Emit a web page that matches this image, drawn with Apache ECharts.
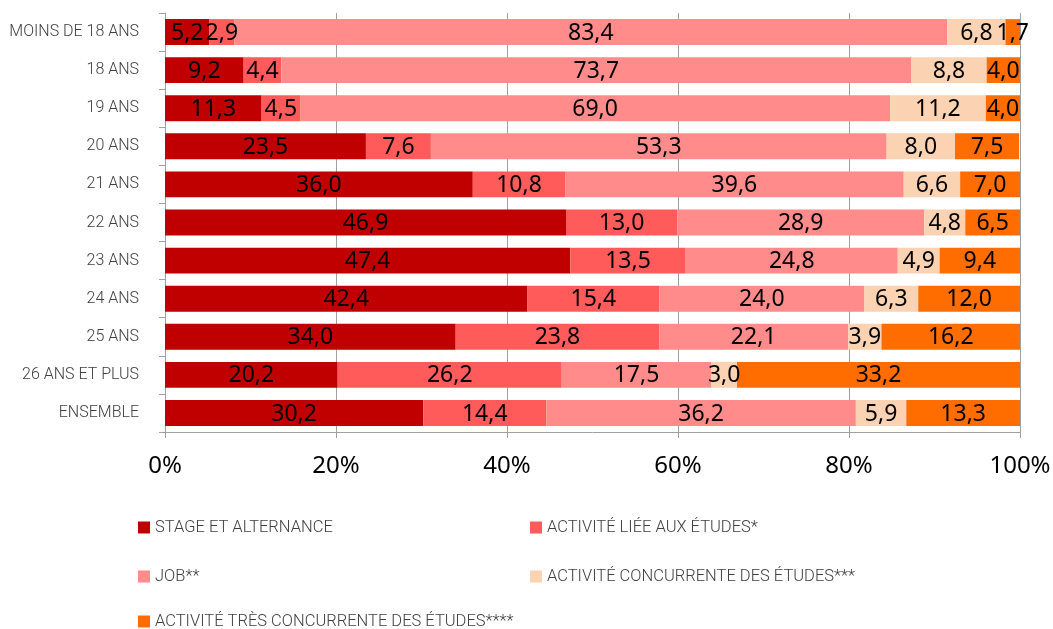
<!DOCTYPE html>
<html>
<head>
<meta charset="utf-8">
<script src="https://cdn.jsdelivr.net/npm/echarts@6/dist/echarts.min.js"></script>
<style>
  html, body { margin: 0; padding: 0; background: #fff; }
  #chart { width: 1053px; height: 629px; }
</style>
</head>
<body>
<div id="chart"></div>
<script>
// =====================
// Données
// =====================

const categories = [
  "MOINS DE 18 ANS", "18 ANS", "19 ANS", "20 ANS", "21 ANS", "22 ANS",
  "23 ANS", "24 ANS", "25 ANS", "26 ANS ET PLUS", "ENSEMBLE"
];

const seriesNames = [
  "STAGE ET ALTERNANCE",
  "ACTIVITÉ LIÉE AUX ÉTUDES*",
  "JOB**",
  "ACTIVITÉ CONCURRENTE DES ÉTUDES***",
  "ACTIVITÉ TRÈS CONCURRENTE DES ÉTUDES****"
];

const stage = [5.2, 9.2, 11.3, 23.5, 36.0, 46.9, 47.4, 42.4, 34.0, 20.2, 30.2];
const liee = [2.9, 4.4, 4.5, 7.6, 10.8, 13.0, 13.5, 15.4, 23.8, 26.2, 14.4];
const job = [83.4, 73.7, 69.0, 53.3, 39.6, 28.9, 24.8, 24.0, 22.1, 17.5, 36.2];
const concurrente = [6.8, 8.8, 11.2, 8.0, 6.6, 4.8, 4.9, 6.3, 3.9, 3.0, 5.9];
const tresConcurrente = [1.7, 4.0, 4.0, 7.5, 7.0, 6.5, 9.4, 12.0, 16.2, 33.2, 13.3];

const xTicks = [0, 20, 40, 60, 80, 100];

const colors = ["#C00000", "#FF5B5B", "#FF8B8B", "#FBD3B3", "#FF6C00"];

// =====================
// Graphique
// =====================

const chart = echarts.init(document.getElementById("chart"));

const allData = [stage, liee, job, concurrente, tresConcurrente];

const condensed = "Roboto, sans-serif";

const legendPos = [
  { left: 133, top: 514 },
  { left: 525, top: 514 },
  { left: 133, top: 563 },
  { left: 525, top: 563 },
  { left: 133, top: 608 }
];

chart.setOption({
  animation: false,
  color: colors,

  grid: {
    left: 165,
    right: 33,
    top: 13,
    height: 419,
    outerBoundsMode: "none"
  },

  legend: seriesNames.map((name, i) => ({
    data: [name],
    left: legendPos[i].left,
    top: legendPos[i].top,
    itemWidth: 12,
    itemHeight: 12,
    icon: "rect",
    selectedMode: false,
    textStyle: {
      fontFamily: condensed,
      fontWeight: 300,
      fontSize: 16.5,
      color: "#404040"
    }
  })),

  xAxis: {
    type: "value",
    min: xTicks[0],
    max: xTicks[xTicks.length - 1],
    interval: 20,
    axisLine: { show: true, lineStyle: { color: "#A0A0A0", width: 1 } },
    axisTick: { show: true, length: 6, lineStyle: { color: "#A0A0A0" } },
    splitLine: { show: true, lineStyle: { color: "#A0A0A0", width: 1 } },
    axisLabel: {
      margin: 22,
      fontFamily: "'Noto Sans', sans-serif",
      fontSize: 24,
      color: "#000",
      formatter: "{value}%"
    }
  },

  yAxis: {
    type: "category",
    inverse: true,
    data: categories,
    axisLine: { show: true, lineStyle: { color: "#A0A0A0", width: 1 } },
    axisTick: { show: true, length: 6, lineStyle: { color: "#A0A0A0" } },
    axisLabel: {
      margin: 26,
      fontFamily: condensed,
      fontWeight: 300,
      fontSize: 16,
      color: "#404040"
    }
  },

  series: seriesNames.map((name, i) => ({
    name: name,
    type: "bar",
    stack: "total",
    barCategoryGap: "32%",
    data: allData[i],
    label: {
      show: true,
      position: "inside",
      offset: [0, 1],
      fontFamily: "'Noto Sans', sans-serif",
      fontSize: 23,
      color: "#000",
      formatter: (p) => p.value.toFixed(1).replace(".", ",")
    }
  }))
});
</script>
</body>
</html>
